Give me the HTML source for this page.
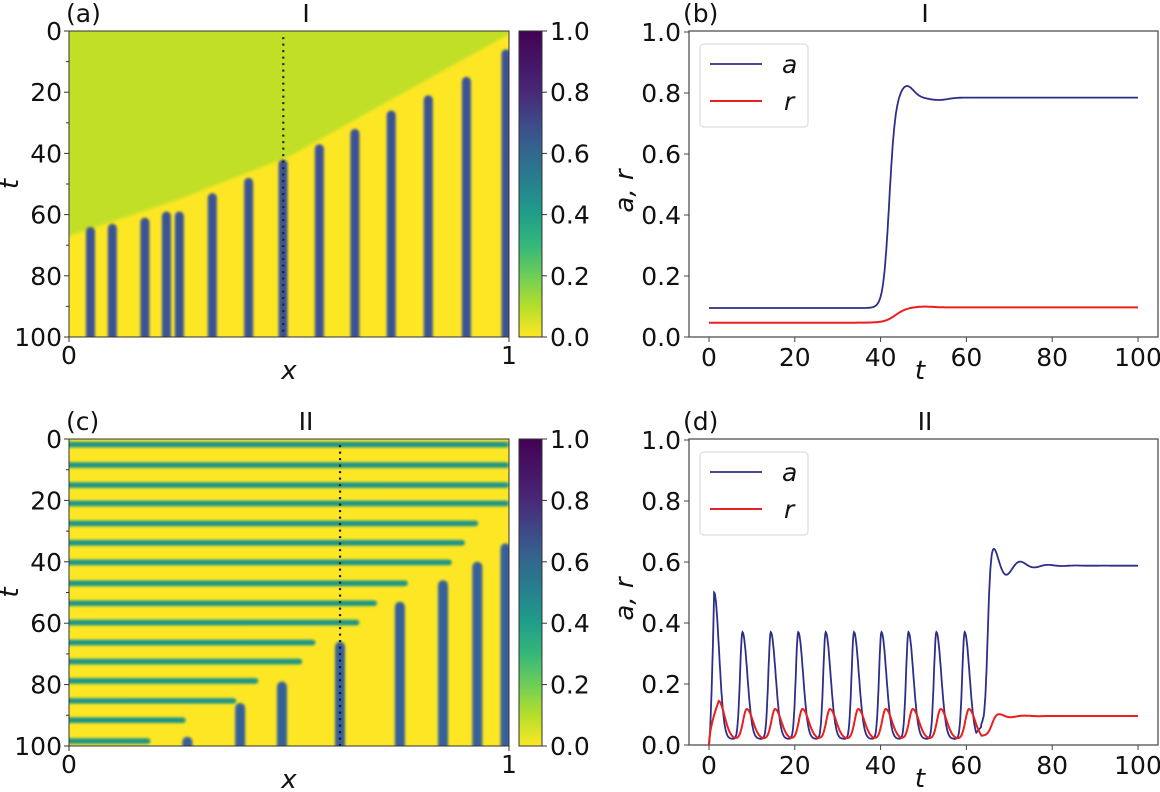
<!DOCTYPE html>
<html><head><meta charset="utf-8"><style>
html,body{margin:0;padding:0;background:#fff;overflow:hidden;width:1160px;height:792px;}
svg{display:block;font-family:"DejaVu Sans","Liberation Sans",sans-serif;}
</style></head><body>
<svg id="s" width="1160" height="792" viewBox="0 0 1160 792" xmlns="http://www.w3.org/2000/svg">
<defs>
<linearGradient id="vir" x1="0" y1="1" x2="0" y2="0">
<stop offset="0" stop-color="#fde725"/><stop offset="0.1" stop-color="#b5de2b"/><stop offset="0.2" stop-color="#6ece58"/><stop offset="0.3" stop-color="#35b779"/><stop offset="0.4" stop-color="#1f9e89"/><stop offset="0.5" stop-color="#26828e"/><stop offset="0.6" stop-color="#31688e"/><stop offset="0.7" stop-color="#3e4989"/><stop offset="0.8" stop-color="#482878"/><stop offset="1" stop-color="#440154"/>
</linearGradient>
<filter id="bl" x="-10%" y="-10%" width="120%" height="120%"><feGaussianBlur stdDeviation="1.6"/></filter>
<filter id="bl2" x="-10%" y="-10%" width="120%" height="120%"><feGaussianBlur stdDeviation="1.2"/></filter>
<clipPath id="ca"><rect x="69" y="31" width="440" height="306"/></clipPath>
<clipPath id="cc"><rect x="69" y="439" width="440" height="307"/></clipPath>
</defs>
<g id="g"></g>
</svg>
<script>
const NS="http://www.w3.org/2000/svg";
const G=document.getElementById('g');
const FS=25;
function el(t,a,txt,p){const e=document.createElementNS(NS,t);for(const k in a)e.setAttribute(k,a[k]);if(txt!=null)e.textContent=txt;(p||G).appendChild(e);return e;}
(function(){
const X=f=>69+440*f, T=t=>31+3.06*t;
const g=el('g',{'clip-path':'url(#ca)'});
el('rect',{x:69,y:31,width:440,height:306,fill:'#fde725'},null,g);
const gg=el('g',{filter:'url(#bl)'},null,g);
el('polygon',{points:`60,20 520,20 ${X(1)},${T(1)} ${X(0.5)},${T(41)} ${X(0.25)},${T(55)} ${X(0)},${T(67)} 60,${T(69)}`,fill:'#c0df25'},null,gg);
const st=[[248,64],[307,63],[395,61],[453,59],[488,59],[577,53],[675,48],[768,42],[866,37],[962,32],[1060,26],[1160,21],[1263,15],[1370,6]];
const sg=el('g',{filter:'url(#bl2)'},null,g);
st.forEach(([c,t])=>{const f=(c-190)/1188;el('rect',{x:X(f)-4.5,y:T(t),width:9,height:320,rx:4.5,fill:'#3a5396'},null,sg);});
el('line',{x1:X(0.487),y1:T(2),x2:X(0.487),y2:337,stroke:'#222','stroke-width':2.2,'stroke-dasharray':'2,4.5'},null,g);
el('rect',{x:69,y:31,width:440,height:306,fill:'none',stroke:'#333','stroke-width':1});
})();
(function(){
const X=f=>69+440*f, T=t=>439+3.07*t;
const g=el('g',{'clip-path':'url(#cc)'});
el('rect',{x:69,y:439,width:440,height:307,fill:'#fde725'},null,g);
const bands=[[1.8,1],[8.5,1],[15,1],[21,1],[27.5,0.93],[33.8,0.9],[40.2,0.87],[47,0.77],[53.5,0.70],[59.8,0.66],[66.3,0.56],[72.5,0.53],[78.8,0.43],[85.3,0.38],[91.6,0.265],[98.4,0.185]];
const bg=el('g',{filter:'url(#bl2)'},null,g);
bands.forEach(([t,e])=>{el('rect',{x:60,y:T(t)-2.8,width:X(e)-60,height:5.6,rx:2.8,fill:'#1f9486'},null,bg);});
const cols=[[0.269,97],[0.389,86],[0.484,79],[0.616,66],[0.752,53],[0.85,46],[0.928,40],[0.992,34]];
cols.forEach(([f,t])=>{el('rect',{x:X(f)-5,y:T(t),width:10,height:330,rx:5,fill:'#36609a'},null,bg);});
el('line',{x1:X(0.616),y1:T(2),x2:X(0.616),y2:746,stroke:'#111','stroke-width':2.2,'stroke-dasharray':'2,4.5'},null,g);
el('rect',{x:69,y:439,width:440,height:307,fill:'none',stroke:'#333','stroke-width':1});
})();
function heatAxes(top,h,lab,title){
 const T=t=>top+h*t/100;
 for(let t=0;t<=100;t+=20){el('line',{x1:64,y1:T(t),x2:69,y2:T(t),stroke:'#333'});
  el('text',{x:62,y:T(t)+9,'font-size':FS,'text-anchor':'end',fill:'#111'},String(t));}
 for(let t=10;t<100;t+=20)el('line',{x1:66,y1:T(t),x2:69,y2:T(t),stroke:'#333'});
 el('line',{x1:69,y1:top+h,x2:69,y2:top+h+5,stroke:'#333'});el('line',{x1:509,y1:top+h,x2:509,y2:top+h+5,stroke:'#333'});
 el('text',{x:69,y:top+h+27,'font-size':FS,'text-anchor':'middle',fill:'#111'},'0');
 el('text',{x:509,y:top+h+27,'font-size':FS,'text-anchor':'middle',fill:'#111'},'1');
 el('text',{x:289,y:top+h+42,'font-size':26,'font-style':'italic','text-anchor':'middle',fill:'#111'},'x');
 el('text',{x:0,y:0,'font-size':26,'font-style':'italic','text-anchor':'middle',fill:'#111',transform:`translate(18,${top+h/2}) rotate(-90)`},'t');
 el('text',{x:66,y:top-9,'font-size':FS,fill:'#111'},lab);
 el('text',{x:306,y:top-9,'font-size':FS,'text-anchor':'middle',fill:'#111'},title);
 el('rect',{x:519,y:top,width:23,height:h,fill:'url(#vir)',stroke:'#333','stroke-width':1});
 for(let i=0;i<=5;i++){const y=top+h-h*i/5;el('line',{x1:542,y1:y,x2:547,y2:y,stroke:'#333'});
  el('text',{x:550,y:y+9,'font-size':FS,fill:'#111'},(i/5).toFixed(1));}
}
heatAxes(31,306,'(a)','I');
heatAxes(439,307,'(c)','II');
function linePanel(top,lab,title,fa,fr){
 const bot=top+306, X=t=>709+4.29*t, Y=v=>bot-305*v;
 el('rect',{x:689,y:top,width:469,height:306,fill:'#fff',stroke:'#444','stroke-width':1.2});
 for(let i=0;i<=5;i++){const y=Y(i/5);el('line',{x1:684,y1:y,x2:689,y2:y,stroke:'#444'});
  el('text',{x:681,y:y+9,'font-size':FS,'text-anchor':'end',fill:'#111'},(i/5).toFixed(1));}
 for(let t=0;t<=100;t+=20){el('line',{x1:X(t),y1:bot,x2:X(t),y2:bot+5,stroke:'#444'});
  el('text',{x:X(t),y:bot+29,'font-size':FS,'text-anchor':'middle',fill:'#111'},String(t));}
 el('text',{x:920,y:bot+42,'font-size':26,'font-style':'italic','text-anchor':'middle',fill:'#111'},'t');
 el('text',{x:0,y:0,'font-size':26,'font-style':'italic','text-anchor':'middle',fill:'#111',transform:`translate(633,${top+160}) rotate(-90)`},'a, r');
 el('text',{x:683,y:top-9,'font-size':FS,fill:'#111'},lab);
 el('text',{x:925,y:top-9,'font-size':FS,'text-anchor':'middle',fill:'#111'},title);
 let pa='',pr='';
 for(let t=0;t<=100.001;t+=0.1){pa+=(t?'L':'M')+X(t).toFixed(1)+','+Y(fa(t)).toFixed(1);pr+=(t?'L':'M')+X(t).toFixed(1)+','+Y(fr(t)).toFixed(1);}
 el('path',{d:pa,fill:'none',stroke:'#2e2e88','stroke-width':1.8});
 el('path',{d:pr,fill:'none',stroke:'#e8201e','stroke-width':2});
 el('rect',{x:700,y:top+13,width:108,height:83,rx:4,fill:'#fff',stroke:'#ddd','stroke-width':1.2});
 el('line',{x1:710,y1:top+33,x2:762,y2:top+33,stroke:'#2e2e88','stroke-width':1.8});
 el('line',{x1:710,y1:top+70,x2:762,y2:top+70,stroke:'#e8201e','stroke-width':2});
 el('text',{x:782,y:top+42,'font-size':FS,'font-style':'italic',fill:'#111'},'a');
 el('text',{x:784,y:top+79,'font-size':FS,'font-style':'italic',fill:'#111'},'r');
}
const sig=x=>1/(1+Math.exp(-x));
function faB(t){return 0.095+0.69*sig((t-42)/0.7)+0.04*Math.exp(-Math.pow((t-46)/2.3,2))-0.008*Math.exp(-Math.pow((t-53.5)/3,2));}
function frB(t){return 0.047+0.05*sig((t-43.5)/1.3)+0.003*Math.exp(-Math.pow((t-50)/3,2));}
linePanel(31,'(b)','I',faB,frB);
const peaks=[1.2,7.8,14.4,20.8,27.2,33.8,40.2,46.5,53,59.6];
function faD(t){
 if(t<63.5){let v=0.02;peaks.forEach((p,i)=>{const A=(i==0?0.48:0.35);const d=t-p;v+=A*(d<0?Math.exp(-Math.pow(d/0.8,2)):Math.exp(-Math.pow(d/1.6,2)));});
  if(t<1.2)v=0.5*Math.pow(t/1.2,1.5);
  if(t>61)v=Math.max(v,0.02+0.04*(t-61)/2.5);return v;}
 const s=sig((t-64.9)/0.35);
 let v=0.06+(0.588-0.06)*s;
 if(t>64)v+=0.07*Math.exp(-(t-66)/4)*Math.cos((t-66.3)*2*Math.PI/6.5)*s;
 return v;}
function frD(t){
 let v=0.02;
 if(t<63.5){peaks.forEach((p,i)=>{const A=(i==0?0.125:0.098);const q=p+1;const d=t-q;v+=A*(d<0?Math.exp(-Math.pow(d/1.2,2)):Math.exp(-Math.pow(d/2.0,2)));});
  if(t<2.3)v=0.145*Math.pow(t/2.3,0.6);return v;}
 const s=sig((t-65.8)/0.6);v=0.03+(0.095-0.03)*s;
 v+=0.012*Math.exp(-(t-67)/3)*Math.cos((t-67.4)*2*Math.PI/6.5)*s;return v;}
linePanel(439,'(d)','II',faD,frD);
</script>
</body></html>
